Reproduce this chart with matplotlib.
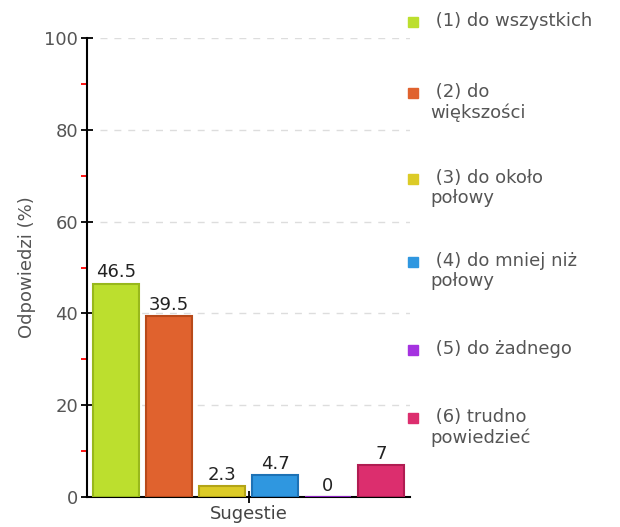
import numpy as np
import matplotlib.pyplot as plt
from matplotlib.patches import Rectangle

plt.rcParams['font.family'] = ['DejaVu Sans']

# dane
labels = [" (1) do wszystkich", " (2) do\nwiększości", " (3) do około\npołowy",
          " (4) do mniej niż\npołowy", " (5) do żadnego", " (6) trudno\npowiedzieć"]
values = [46.5, 39.5, 2.3, 4.7, 0, 7]
value_text = ["46.5", "39.5", "2.3", "4.7", "0", "7"]
colors = ["#bcdf2e", "#e0622e", "#dccb27", "#2f97e0", "#a532e0", "#dc2e6e"]
edges = ["#98b81c", "#b84a1a", "#b3a417", "#1d72b5", "#8a1fc0", "#b01c52"]
legend_y = [22, 93, 179, 262, 350, 418]   # pozycje wpisów legendy (px od góry)
yticks = [0, 20, 40, 60, 80, 100]

W, H = 620, 527
fig = plt.figure(figsize=(W / 100, H / 100), dpi=100)
ax = fig.add_axes([87 / W, 1 - 497 / H, (410 - 87) / W, (497 - 38) / H])

x = np.arange(len(values))
ax.bar(x, values, width=0.87, color=colors, edgecolor=edges, linewidth=1.5, zorder=3)
for xi, v, t in zip(x, values, value_text):
    ax.annotate(t, (xi, v), xytext=(0, 1.5), textcoords="offset points",
                ha="center", va="bottom", fontsize=13, color="#222222", zorder=4)

# siatka przerywana
for g in yticks[1:]:
    ax.axhline(g, xmin=0.04, xmax=1, color="#dddddd", linestyle=(0, (5, 5)),
               linewidth=1, zorder=1)

ax.set_xlim(-0.55, 5.55)
ax.set_ylim(0, 100)
ax.set_yticks(yticks)
ax.set_yticks(np.arange(10, 100, 20), minor=True)
ax.tick_params(axis="y", which="major", direction="inout", length=9, width=1.3,
               labelsize=13, labelcolor="#555555", pad=2)
ax.tick_params(axis="y", which="minor", direction="out", length=4, width=1.3,
               color="red")
ax.set_xticks([2.5])
ax.set_xticklabels(["Sugestie"])
ax.tick_params(axis="x", direction="inout", length=9, width=1.3,
               labelsize=13, labelcolor="#444444", pad=1)
ax.set_ylabel("Odpowiedzi (%)", fontsize=13, color="#555555", labelpad=6)

for s in ["top", "right"]:
    ax.spines[s].set_visible(False)
for s in ["left", "bottom"]:
    ax.spines[s].set_linewidth(1.5)

# legenda
for lab, c, yp in zip(labels, colors, legend_y):
    fig.patches.append(Rectangle((408 / W, 1 - (yp + 5) / H), 10 / W, 10 / H,
                                 transform=fig.transFigure, color=c))
    fig.text(430 / W, 1 - (yp - 10) / H, lab, fontsize=13, color="#555555",
             va="top", ha="left", linespacing=1.15)

fig.savefig("out.png", dpi=100)
